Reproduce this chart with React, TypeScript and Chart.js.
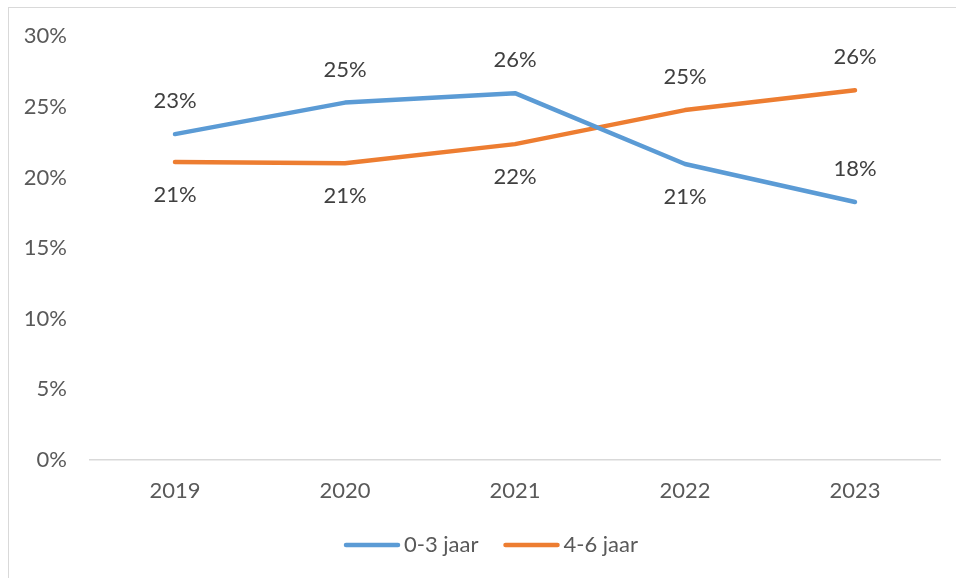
import React, { useEffect, useRef } from "react";
import { Chart, registerables } from "chart.js";

Chart.register(...registerables);

const categories = ["2019", "2020", "2021", "2022", "2023"];
const series03 = [23.07, 25.3, 25.97, 20.95, 18.26];
const series46 = [21.09, 21.0, 22.36, 24.77, 26.18];
const seriesNames = ["0-3 jaar", "4-6 jaar"];
const yTicks = { min: 0, max: 30, step: 5 };

// label placement per series (1 = above, -1 = below)
const labelSide = [
  [1, 1, 1, -1, 1],
  [-1, -1, -1, 1, 1],
];

const FONT = "Lato";
const FS = 22;

const dataLabelPlugin = {
  id: "dataLabels",
  afterDatasetsDraw(chart: any) {
    const ctx = chart.ctx;
    ctx.save();
    ctx.font = `${FS}px ${FONT}`;
    ctx.fillStyle = "#404040";
    ctx.textAlign = "center";
    ctx.textBaseline = "middle";
    chart.data.datasets.forEach((ds: any, di: number) => {
      const meta = chart.getDatasetMeta(di);
      meta.data.forEach((pt: any, i: number) => {
        const v = ds.data[i];
        const side = labelSide[di][i];
        ctx.fillText(Math.round(v) + "%", pt.x, pt.y - side * 33);
      });
    });
    ctx.restore();
  },
};

const legendPlugin = {
  id: "customLegend",
  afterDraw(chart: any) {
    const ctx = chart.ctx;
    ctx.save();
    ctx.font = `${FS}px ${FONT}`;
    ctx.textBaseline = "middle";
    ctx.textAlign = "left";
    const lineLen = 56;
    const gap = 4;
    const itemGap = 25;
    const widths = chart.data.datasets.map(
      (ds: any) => lineLen + gap + ctx.measureText(ds.label).width
    );
    const total = widths.reduce((a: number, b: number) => a + b, 0) + itemGap * (widths.length - 1);
    let x = (chart.width - total) / 2 + 13;
    const y = 545;
    chart.data.datasets.forEach((ds: any, i: number) => {
      ctx.strokeStyle = ds.borderColor;
      ctx.lineWidth = 4.5;
      ctx.lineCap = "round";
      ctx.beginPath();
      ctx.moveTo(x + 2, y);
      ctx.lineTo(x + lineLen - 2, y);
      ctx.stroke();
      ctx.fillStyle = "#595959";
      ctx.fillText(ds.label, x + lineLen + gap, y);
      x += widths[i] + itemGap;
    });
    ctx.restore();
  },
};

export default function App() {
  const ref = useRef<HTMLCanvasElement | null>(null);
  useEffect(() => {
    if (!ref.current) return;
    const chart = new Chart(ref.current, {
      type: "line",
      data: {
        labels: categories,
        datasets: [
          {
            label: seriesNames[0],
            data: series03,
            borderColor: "#5B9BD5",
            backgroundColor: "#5B9BD5",
            borderWidth: 4.5,
            pointRadius: 0,
            tension: 0,
            borderCapStyle: "round",
            borderJoinStyle: "round",
          },
          {
            label: seriesNames[1],
            data: series46,
            borderColor: "#ED7D31",
            backgroundColor: "#ED7D31",
            borderWidth: 4.5,
            pointRadius: 0,
            tension: 0,
            borderCapStyle: "round",
            borderJoinStyle: "round",
          },
        ],
      },
      options: {
        animation: false,
        responsive: false,
        maintainAspectRatio: false,
        devicePixelRatio: 1,
        layout: { padding: { top: 36, right: 16, bottom: 74, left: 0 } },
        plugins: {
          legend: { display: false },
          tooltip: { enabled: false },
        },
        scales: {
          x: {
            offset: true,
            grid: { display: false, drawTicks: false },
            border: { display: true, color: "#d9d9d9", width: 1.5 },
            ticks: {
              color: "#595959",
              font: { family: FONT, size: FS },
              padding: 18,
              maxRotation: 0,
            },
            afterFit: (s: any) => {
              s.height = 44;
            },
          },
          y: {
            min: yTicks.min,
            max: yTicks.max,
            grid: { display: false, drawTicks: false },
            border: { display: false },
            ticks: {
              stepSize: yTicks.step,
              color: "#595959",
              font: { family: FONT, size: FS },
              padding: 23,
              callback: (v: any) => v + "%",
            },
            afterFit: (s: any) => {
              s.width = 90;
            },
          },
        },
      },
      plugins: [dataLabelPlugin, legendPlugin],
    });
    return () => chart.destroy();
  }, []);
  return (
    <div style={{ position: "fixed", left: 0, top: 0, width: 956, height: 578, overflow: "hidden", background: "#fff" }}>
      <div
        style={{
          position: "absolute",
          left: 8,
          top: 7,
          width: 1000,
          height: 1000,
          border: "1.5px solid #d9d9d9",
        }}
      />
      <canvas ref={ref} width={956} height={578} style={{ position: "absolute", left: 0, top: 0 }} />
    </div>
  );
}
